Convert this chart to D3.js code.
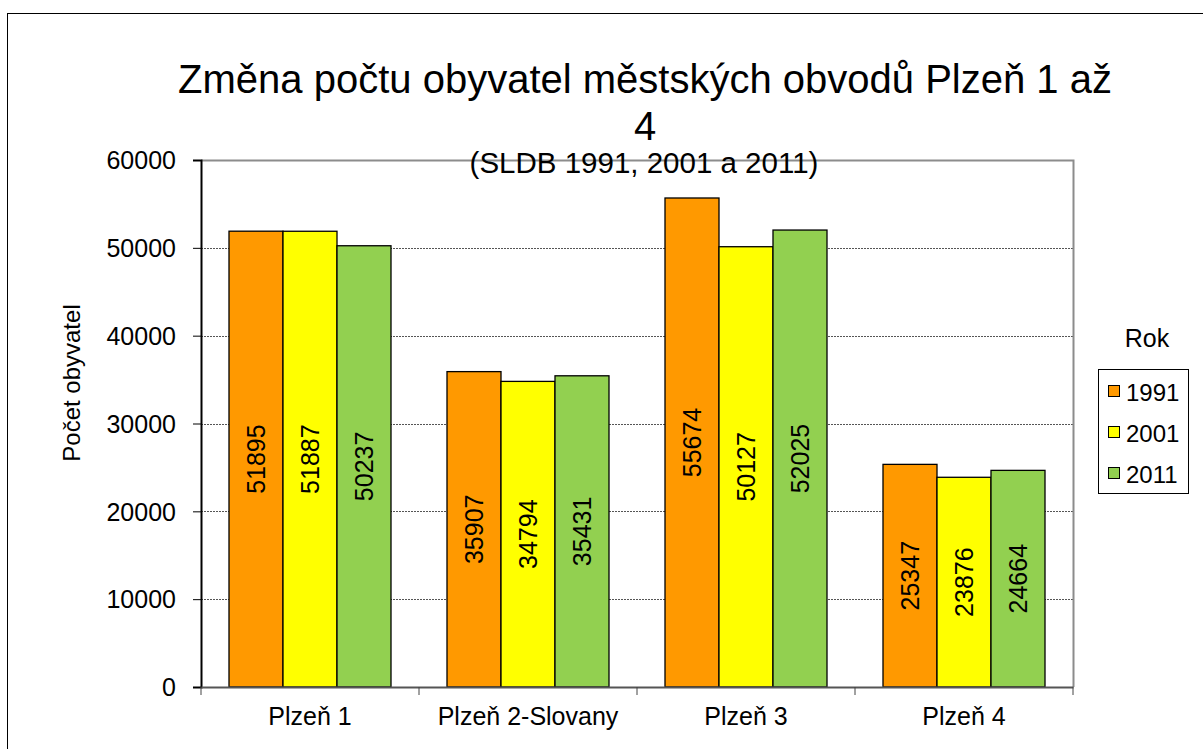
<!DOCTYPE html>
<html>
<head>
<meta charset="utf-8">
<script src="https://cdn.jsdelivr.net/npm/d3@7"></script>
<style>
  body { margin: 0; background: #fff; }
  svg { display: block; font-family: "Liberation Sans", Arial, sans-serif; }
</style>
</head>
<body>
<svg id="chart" width="1203" height="749"></svg>
<script>
// data
const categories = ["Plzeň 1", "Plzeň 2-Slovany", "Plzeň 3", "Plzeň 4"];
const years = ["1991", "2001", "2011"];
const values1991 = [51895, 35907, 55674, 25347];
const values2001 = [51887, 34794, 50127, 23876];
const values2011 = [50237, 35431, 52025, 24664];
const yTicks = [0, 10000, 20000, 30000, 40000, 50000, 60000];
const titleLines = ["Změna počtu obyvatel městských obvodů Plzeň 1 až", "4"];
const subtitle = "(SLDB 1991, 2001 a 2011)";
const yLabel = "Počet obyvatel";
const legendTitle = "Rok";

const colors = { "1991": "#FF9900", "2001": "#FFFF00", "2011": "#92D050" };
const series = { "1991": values1991, "2001": values2001, "2011": values2011 };

const svg = d3.select("#chart");
const plot = { left: 201, right: 1073, top: 160, bottom: 687 };

// outer chart border
svg.append("rect")
    .attr("x", 7.5).attr("y", 13.5)
    .attr("width", 1203).attr("height", 749)
    .attr("fill", "none").attr("stroke", "#000").attr("stroke-width", 1);

const x0 = d3.scaleBand().domain(categories).range([plot.left, plot.right]);
const gap = 28;
const x1 = d3.scaleBand().domain(years).range([gap, x0.bandwidth() - gap]);
const y = d3.scaleLinear().domain([0, 60000]).range([plot.bottom, plot.top]);

// gridlines
svg.append("g")
    .selectAll("line")
    .data(yTicks.filter(t => t > 0 && t < 60000))
    .enter().append("line")
    .attr("x1", plot.left).attr("x2", plot.right)
    .attr("y1", d => Math.round(y(d)) + 0.5).attr("y2", d => Math.round(y(d)) + 0.5)
    .attr("stroke", "#555").attr("stroke-dasharray", "2,1");

// plot area border (top and right)
svg.append("path")
    .attr("d", `M${plot.left},${plot.top + 0.5}H${plot.right + 0.5}V${plot.bottom}`)
    .attr("fill", "none").attr("stroke", "#8c8c8c").attr("stroke-width", 2);

// bars
const groups = svg.append("g")
    .selectAll("g")
    .data(categories)
    .enter().append("g")
    .attr("transform", d => `translate(${x0(d)},0)`);

groups.selectAll("rect")
    .data((d, i) => years.map(yr => ({ year: yr, value: series[yr][i] })))
    .enter().append("rect")
    .attr("x", d => x1(d.year))
    .attr("y", d => y(d.value))
    .attr("width", x1.bandwidth())
    .attr("height", d => plot.bottom - y(d.value))
    .attr("fill", d => colors[d.year])
    .attr("stroke", "#000").attr("stroke-width", 1.3);

groups.selectAll("text")
    .data((d, i) => years.map(yr => ({ year: yr, value: series[yr][i] })))
    .enter().append("text")
    .attr("transform", d => `translate(${x1(d.year) + x1.bandwidth() / 2},${(y(d.value) + plot.bottom) / 2}) rotate(-90)`)
    .attr("text-anchor", "middle")
    .attr("dominant-baseline", "central")
    .style("font-size", "25px")
    .text(d => d.value);

// y axis
const yAxis = svg.append("g")
    .attr("transform", `translate(${plot.left},0)`)
    .call(d3.axisLeft(y).tickValues(yTicks).tickSize(8).tickPadding(17).tickFormat(d3.format("d")));
yAxis.select(".domain").attr("stroke", "#000").attr("stroke-width", 2);
yAxis.selectAll(".tick line").attr("stroke", "#000");
yAxis.selectAll("text").style("font-size", "25px").attr("fill", "#000").attr("dy", "0.35em");

// x axis
const xAxis = svg.append("g")
    .attr("transform", `translate(0,${plot.bottom})`)
    .call(d3.axisBottom(x0).tickSize(0).tickPadding(20));
xAxis.select(".domain").attr("stroke", "#555").attr("stroke-width", 2);
xAxis.selectAll("text").style("font-size", "25px").attr("fill", "#000");
svg.append("g")
    .selectAll("line")
    .data(categories.concat([null]))
    .enter().append("line")
    .attr("x1", (d, i) => plot.left + i * x0.step())
    .attr("x2", (d, i) => plot.left + i * x0.step())
    .attr("y1", plot.bottom).attr("y2", plot.bottom + 8)
    .attr("stroke", "#444");

// titles
const cx = 645;
svg.append("text")
    .attr("x", cx).attr("y", 93)
    .attr("text-anchor", "middle")
    .style("font-size", "40px")
    .selectAll("tspan")
    .data(titleLines)
    .enter().append("tspan")
    .attr("x", cx)
    .attr("dy", (d, i) => i === 0 ? 0 : 47)
    .text(d => d);

svg.append("text")
    .attr("x", cx - 1).attr("y", 173)
    .attr("text-anchor", "middle")
    .style("font-size", "29.5px")
    .text(subtitle);

svg.append("text")
    .attr("transform", "translate(80,383) rotate(-90)")
    .attr("text-anchor", "middle")
    .style("font-size", "24px")
    .text(yLabel);

// legend
svg.append("text")
    .attr("x", 1147).attr("y", 347)
    .attr("text-anchor", "middle")
    .style("font-size", "25px")
    .text(legendTitle);

svg.append("rect")
    .attr("x", 1098.5).attr("y", 369.5)
    .attr("width", 90).attr("height", 124)
    .attr("fill", "#fff").attr("stroke", "#000");

const legendItems = svg.append("g")
    .selectAll("g")
    .data(years)
    .enter().append("g")
    .attr("transform", (d, i) => `translate(1108,${391 + i * 41})`);

legendItems.append("rect")
    .attr("x", 0.5).attr("y", -5.5)
    .attr("width", 11).attr("height", 11)
    .attr("fill", d => colors[d])
    .attr("stroke", "#000");

legendItems.append("text")
    .attr("x", 18).attr("y", 1)
    .attr("dominant-baseline", "central")
    .style("font-size", "24px")
    .text(d => d);
</script>
</body>
</html>
